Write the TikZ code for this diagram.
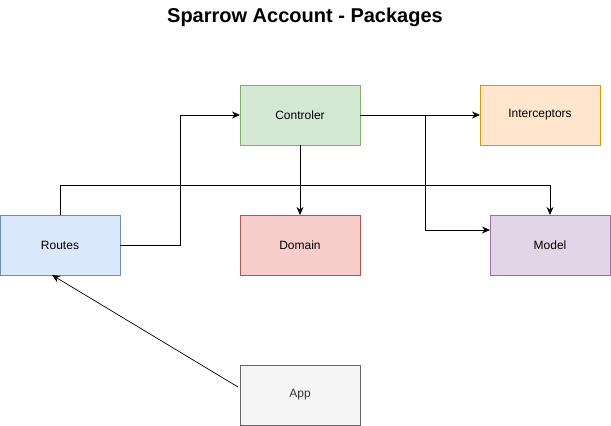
\documentclass[tikz,border=0pt]{standalone}
\usepackage{fontspec}
\setmainfont{Liberation Sans}
\usetikzlibrary{arrows.meta, positioning, calc}
\definecolor{ctrlfill}{HTML}{D5E8D4}
\definecolor{ctrldraw}{HTML}{82B366}
\definecolor{icptfill}{HTML}{FFE6CC}
\definecolor{icptdraw}{HTML}{D79B00}
\definecolor{routfill}{HTML}{DAE8FC}
\definecolor{routdraw}{HTML}{6C8EBF}
\definecolor{domfill}{HTML}{F8CECC}
\definecolor{domdraw}{HTML}{B85450}
\definecolor{modfill}{HTML}{E1D5E7}
\definecolor{moddraw}{HTML}{9673A6}
\definecolor{appfill}{HTML}{F5F5F5}
\definecolor{appdraw}{HTML}{666666}
\definecolor{apptext}{HTML}{333333}

\begin{document}
\begin{tikzpicture}[
  x=1pt, y=-1pt,
  >={Stealth[length=8pt, width=7pt]},
  pkg/.style={draw, line width=1pt, minimum width=120pt, minimum height=60pt,
    inner sep=0pt, outer sep=0pt, font=\fontsize{12}{14}\selectfont},
  link/.style={->, line width=1pt}
]
\useasboundingbox (0,0) rectangle (611,426);
\node[font=\fontsize{20}{24}\selectfont\bfseries] (title) at (305,17) {Sparrow Account - Packages};

\node[pkg, fill=ctrlfill, draw=ctrldraw] (ctrl) at (300,115) {Controler};
\node[pkg, fill=icptfill, draw=icptdraw, right=120pt of ctrl] (icpt) {Interceptors};
\node[pkg, fill=domfill, draw=domdraw, below=70pt of ctrl] (domain) {Domain};
\node[pkg, fill=routfill, draw=routdraw, left=120pt of domain] (routes) {Routes};
\node[pkg, fill=modfill, draw=moddraw, right=130pt of domain] (model) {Model};
\node[pkg, fill=appfill, draw=appdraw, text=apptext, below=90pt of domain] (app) {App};

\coordinate (split) at (425,115);
\coordinate (modin) at ($(model.west)+(0,-15)$);

\draw[link] (routes.east) -- ++(60,0) |- (ctrl.west);
\draw[link] (ctrl.south) -- (domain.north);
\draw[link] (ctrl.east) -- (icpt.west);
\draw[link] (split) |- (modin);
\draw[link] (routes.north) -- ++(0,-30) -| (model.north);
\draw[->, line width=0.7pt] ($(app.west)+(-2,-8)$) -- ($(routes.south)+(-8,0)$);
\end{tikzpicture}
\end{document}
